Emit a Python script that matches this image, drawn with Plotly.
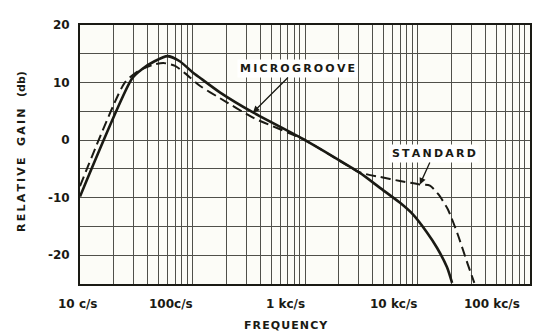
import math
import plotly.graph_objects as go

# ---- data ----
freq_microgroove = [10, 29, 36, 46, 60, 77, 100, 117, 175, 345, 1000, 3080, 4640,
                    7000, 9100, 12100, 14900, 18300, 20300]
gain_microgroove = [-9.8, 10.7, 12.4, 13.7, 14.6, 13.7, 11.8, 10.8, 8.3, 4.8, 0.0,
                    -5.7, -8.3, -10.9, -12.9, -16.0, -18.7, -22.1, -24.8]

freq_standard = [10, 25, 33, 45, 55, 70, 86, 117, 175, 345, 1000, 3080, 4640, 7000,
                 10500, 12900, 15300, 18600, 22800, 27900, 32000]
gain_standard = [-8.0, 10.0, 12.0, 13.1, 13.4, 12.9, 11.6, 9.4, 7.3, 3.9, 0.0, -5.6,
                 -6.4, -7.1, -7.7, -7.9, -9.4, -12.0, -16.4, -21.5, -24.8]

x_tick_values = [10, 100, 1000, 10000, 100000]
x_tick_labels = ["10 c/s", "100c/s", "1 kc/s", "10 kc/s", "100 kc/s"]
y_tick_values = [-25, -20, -15, -10, -5, 0, 5, 10, 15, 20]
y_tick_labels = ["", "-20", "", "-10", "", "0", "", "10", "", "20"]

series_names = ["MICROGROOVE", "STANDARD"]

# ---- figure ----
INK = "#1a1a14"
GRID = "#50504a"
FONT = "DejaVu Sans"
TS = "\u2009"  # thin space for letter spacing
HS = "\u200a"  # hair space

minor_vals = [m * 10 ** d for d in range(1, 5) for m in range(1, 10)] + [100000]

fig = go.Figure()
fig.add_trace(go.Scatter(x=freq_microgroove, y=gain_microgroove, mode="lines",
                         name=series_names[0],
                         line=dict(color=INK, width=2.6, shape="spline", smoothing=0.6)))
fig.add_trace(go.Scatter(x=freq_standard, y=gain_standard, mode="lines",
                         name=series_names[1],
                         line=dict(color=INK, width=2.0, dash="10px,5px",
                                   shape="spline", smoothing=0.6)))

annotations = []
for i, (v, lab) in enumerate(zip(x_tick_values, x_tick_labels)):
    annotations.append(dict(
        x=math.log10(v), xref="x", y=0, yref="paper", yanchor="top",
        xanchor="center" if i == 0 else "right", yshift=-11,
        xshift=-2 if i == 0 else (-8 if i == len(x_tick_values) - 1 else 2),
        text=f"<b>{lab}</b>", showarrow=False,
        font=dict(family=FONT, size=12, color=INK)))

annotations.append(dict(x=0.457, xref="paper", y=0, yref="paper", yanchor="middle",
                        yshift=-41, text="<b>" + HS.join("FREQUENCY") + "</b>",
                        showarrow=False, font=dict(family=FONT, size=11, color=INK)))
annotations.append(dict(x=0, xref="paper", y=0.51, yref="paper", xanchor="center",
                        xshift=-58, textangle=-90,
                        text="<b>" + TS.join("RELATIVE") + "   " + TS.join("GAIN")
                        + "   (db)</b>",
                        showarrow=False, font=dict(family=FONT, size=11, color=INK)))

# curve labels with arrows pointing at the curves
annotations.append(dict(x=math.log10(freq_microgroove[9]), y=gain_microgroove[9],
                        xref="x", yref="y", ax=44, ay=-44,
                        text="<b>" + TS.join(series_names[0]) + "</b>", showarrow=True,
                        arrowhead=2, arrowsize=1, arrowwidth=1.3, arrowcolor=INK,
                        bgcolor="white", borderpad=2,
                        font=dict(family=FONT, size=11, color=INK)))
annotations.append(dict(x=math.log10(freq_standard[14]), y=gain_standard[14],
                        xref="x", yref="y", ax=14, ay=-31,
                        text="<b>" + TS.join(series_names[1]) + "</b>", showarrow=True,
                        arrowhead=2, arrowsize=1, arrowwidth=1.3, arrowcolor=INK,
                        bgcolor="white", borderpad=2,
                        font=dict(family=FONT, size=11, color=INK)))

# page body has an 8px margin, so the figure is 8px smaller and offset
fig.update_layout(
    width=544, height=326,
    margin=dict(l=72, r=22, t=10, b=50),
    paper_bgcolor="white", plot_bgcolor="#fcfcf7",
    showlegend=False,
    annotations=annotations,
    font=dict(family=FONT, color=INK),
)
fig.update_xaxes(type="log", range=[1, 5], tickvals=minor_vals,
                 ticktext=["" for _ in minor_vals], showgrid=True,
                 gridcolor=GRID, gridwidth=1.2, showline=True, mirror=True,
                 linecolor=INK, linewidth=2, ticks="", zeroline=False)
fig.update_yaxes(range=[-25, 20], tickvals=y_tick_values,
                 ticktext=[f"<b>{t}</b>" if t else "" for t in y_tick_labels],
                 showgrid=True, gridcolor=GRID, gridwidth=1.2, showline=True,
                 mirror=True, linecolor=INK, linewidth=2, ticks="",
                 ticklabelstandoff=6, zeroline=False,
                 tickfont=dict(family=FONT, size=12, color=INK))

fig.write_html("out.html")
